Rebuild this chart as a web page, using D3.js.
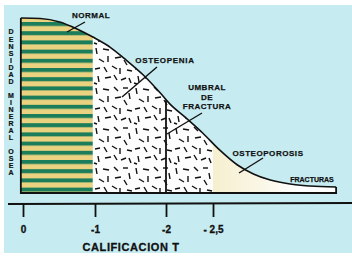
<!DOCTYPE html>
<html>
<head>
<meta charset="utf-8">
<script src="https://cdn.jsdelivr.net/npm/d3@7"></script>
<style>
  body { margin: 0; background: #fff; }
  svg { display: block; font-family: "Liberation Sans", Arial, sans-serif; font-weight: bold; }
</style>
</head>
<body>
<svg id="chart" width="352" height="257"></svg>
<script>
// curve of bone density vs T score
const tScore  = [0.03, -0.24, -0.51, -0.75, -0.97, -1.21, -1.42, -1.68, -1.92, -2.04, -2.20, -2.39, -2.57, -2.76, -2.93, -3.11, -3.32, -3.53, -3.81];
const density = [100, 99.7, 97.7, 93.7, 89.1, 83.4, 76.6, 67.4, 57.1, 50.9, 43.5, 34.3, 24.6, 16, 10.9, 7.4, 5.1, 4, 3.4];

const tickValues = [0, -1, -2, -2.5];
const tickLabels = ["0", "-1", "-2", "- 2,5"];

// zones
const normalEnd = -0.97;
const umbral = -2;
const osteoporosisStart = -2.5;

const yWords = ["DENSIDAD", "MINERAL", "OSEA"];

const svg = d3.select("#chart");

// hand drawn axis, not quite even per unit
const x = d3.scaleLinear()
  .domain([0, -1, -2, -2.5, -3.83])
  .range([23, 95, 166, 213, 338]);
const y = d3.scaleLinear().domain([0, 100]).range([193, 18]);

// background
svg.append("rect").attr("x", 4).attr("y", 5).attr("width", 348).attr("height", 248).attr("fill", "#c6ecf1");

const defs = svg.append("defs");

// green / yellow stripes
const stripes = defs.append("pattern").attr("id", "stripes")
  .attr("patternUnits", "userSpaceOnUse").attr("width", 10).attr("height", 9.2)
  .attr("y", 22);
stripes.append("rect").attr("width", 10).attr("height", 9.2).attr("fill", "#ebd280");
stripes.append("rect").attr("width", 10).attr("height", 4).attr("fill", "#1b7d5a");

// little dashes texture (hand placed, scattered)
const dash = defs.append("pattern").attr("id", "dashes")
  .attr("patternUnits", "userSpaceOnUse").attr("width", 40).attr("height", 40).attr("x", 93).attr("y", 5);
dash.append("rect").attr("width", 40).attr("height", 40).attr("fill", "#fdfdfd");
[[3,3,4,9],[10,4,16,5],[21,2,25,6],[30,3,35,3],[36,8,37,14],
 [6,14,11,17],[15,11,15,17],[22,13,28,12],[31,15,34,20],
 [2,24,7,23],[11,22,14,27],[19,21,24,24],[27,23,27,29],[34,25,39,26],
 [5,31,6,37],[12,33,18,32],[21,30,24,35],[28,35,33,33],[36,33,38,38],[1,38,4,39]]
  .forEach(d => dash.append("line").attr("x1", d[0]).attr("y1", d[1]).attr("x2", d[2]).attr("y2", d[3])
    .attr("stroke", "#111").attr("stroke-width", 1.4));

// pale yellow fading out
const grad = defs.append("linearGradient").attr("id", "pale")
  .attr("gradientUnits", "userSpaceOnUse")
  .attr("x1", x(osteoporosisStart)).attr("x2", 300).attr("y1", 0).attr("y2", 0);
grad.append("stop").attr("offset", 0).attr("stop-color", "#f6efcf");
grad.append("stop").attr("offset", 0.45).attr("stop-color", "#f9f5e2");
grad.append("stop").attr("offset", 1).attr("stop-color", "#ffffff");

const pts = tScore.map((t, i) => [x(t), y(density[i])]);

const area = d3.area().x(d => d[0]).y0(y(0)).y1(d => d[1]).curve(d3.curveMonotoneX);
const line = d3.line().x(d => d[0]).y(d => d[1]).curve(d3.curveMonotoneX);

defs.append("clipPath").attr("id", "under").append("path").attr("d", area(pts));

const zones = svg.append("g").attr("clip-path", "url(#under)");
zones.append("rect").attr("x", x(tScore[0])).attr("y", 0).attr("width", x(normalEnd) - x(tScore[0])).attr("height", y(0))
  .attr("fill", "url(#stripes)");
zones.append("rect").attr("x", x(normalEnd)).attr("y", 0).attr("width", x(osteoporosisStart) - x(normalEnd)).attr("height", y(0))
  .attr("fill", "url(#dashes)");
zones.append("rect").attr("x", x(osteoporosisStart)).attr("y", 0).attr("width", 140).attr("height", y(0))
  .attr("fill", "url(#pale)");

// curve
svg.append("path").attr("d", line(pts)).attr("fill", "none").attr("stroke", "#111").attr("stroke-width", 1.6);

// frame: left side, bottom, little end cap
const last = pts[pts.length - 1];
svg.append("path")
  .attr("d", `M${pts[0][0]},${pts[0][1]}V${y(0)}H${last[0]}V${last[1]}`)
  .attr("fill", "none").attr("stroke", "#111").attr("stroke-width", 1.8);

// fracture threshold line
const umbralTop = y(d3.scaleLinear().domain(tScore.slice(8, 10)).range(density.slice(8, 10))(umbral));
svg.append("line").attr("x1", x(umbral)).attr("x2", x(umbral)).attr("y1", umbralTop).attr("y2", y(0))
  .attr("stroke", "#111").attr("stroke-width", 1.8);

// labels with pointers
const labels = [
  {lines: ["NORMAL"], x: 91, y: 18, size: 8, ls: 0.5, from: [85, 22], to: [67, 32]},
  {lines: ["OSTEOPENIA"], x: 165, y: 63, size: 8, ls: 0.7, from: [157, 67], to: [122, 97]},
  {lines: ["UMBRAL", "DE", "FRACTURA"], x: 207, y: 90, size: 8, ls: 0.5, from: [202, 113], to: [167, 134]},
  {lines: ["OSTEOPOROSIS"], x: 268, y: 156, size: 8, ls: 0.55, from: [263, 158], to: [239, 173]},
  {lines: ["FRACTURAS"], x: 312, y: 182, size: 7, ls: 0, from: null, to: null}
];
labels.forEach(l => {
  l.lines.forEach((s, i) => {
    svg.append("text").attr("x", l.x).attr("y", l.y + i * 9.5).attr("text-anchor", "middle")
      .attr("font-size", l.size).attr("letter-spacing", l.ls).attr("fill", "#111")
      .attr("stroke", "#111").attr("stroke-width", 0.25).text(s);
  });
  if (l.from) {
    svg.append("line").attr("x1", l.from[0]).attr("y1", l.from[1]).attr("x2", l.to[0]).attr("y2", l.to[1])
      .attr("stroke", "#111").attr("stroke-width", 1.4);
  }
});

// vertical y label, letter by letter
let slot = 0;
yWords.forEach(w => {
  w.split("").forEach(c => {
    svg.append("text").attr("x", 11).attr("y", 32 + slot * 7.05).attr("dy", "0.35em")
      .attr("text-anchor", "middle").attr("font-size", 7).attr("fill", "#111")
      .attr("stroke", "#111").attr("stroke-width", 0.2).text(c);
    slot++;
  });
  slot++;
});

// x axis
svg.append("line").attr("x1", 8).attr("x2", 352).attr("y1", 204).attr("y2", 203)
  .attr("stroke", "#111").attr("stroke-width", 1.8);
const axis = svg.append("g").attr("transform", "translate(0,204)")
  .call(d3.axisBottom(x).tickValues(tickValues).tickSize(13).tickPadding(9)
    .tickFormat((d, i) => tickLabels[i]));
axis.select(".domain").remove();
axis.selectAll(".tick line").attr("stroke", "#111").attr("stroke-width", 1.8);
axis.selectAll(".tick text").attr("font-size", 10).attr("font-weight", "bold").attr("fill", "#111")
  .attr("stroke", "#111").attr("stroke-width", 0.3)
  .attr("font-family", "Liberation Sans, Arial, sans-serif");

svg.append("text").attr("x", 131).attr("y", 251).attr("text-anchor", "middle")
  .attr("font-size", 11).attr("letter-spacing", 0.6).attr("fill", "#111")
  .attr("stroke", "#111").attr("stroke-width", 0.3).text("CALIFICACION T");
</script>
</body>
</html>
